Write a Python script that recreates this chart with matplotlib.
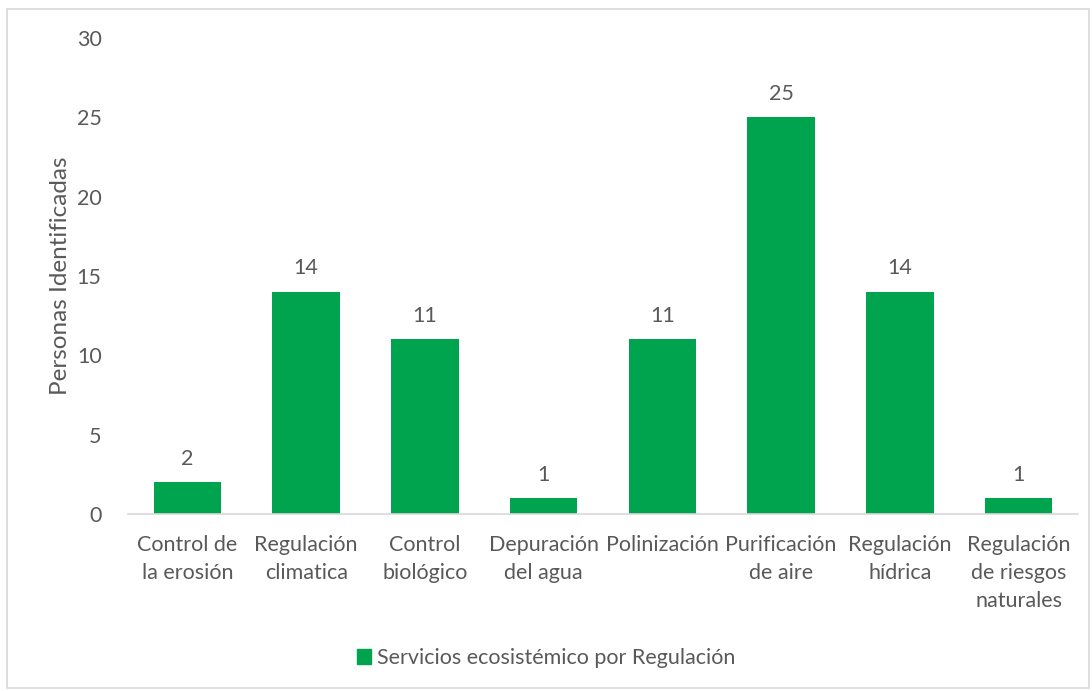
import matplotlib.pyplot as plt
from matplotlib.patches import Rectangle, Patch

# Servicios de regulación identificados
categorias = ['Control de\nla erosión', 'Regulación\nclimatica', 'Control\nbiológico',
              'Depuración\ndel agua', 'Polinización', 'Purificación\nde aire',
              'Regulación\nhídrica', 'Regulación\nde riesgos\nnaturales']
personas = [2, 14, 11, 1, 11, 25, 14, 1]
serie = 'Servicios ecosistémico por Regulación'

verde = '#00A34E'
gris = '#595959'

plt.rcParams['font.family'] = ['Lato', 'DejaVu Sans']

fig = plt.figure(figsize=(10.92, 6.91), dpi=100)
ax = fig.add_axes([128 / 1092, 1 - 514 / 691, 950 / 1092, 476 / 691])

x = range(len(categorias))
bars = ax.bar(x, personas, width=0.57, color=verde)
for b, v in zip(bars, personas):
    ax.text(b.get_x() + b.get_width() / 2, v + 0.85, str(v), ha='center', va='bottom',
            fontsize=15.5, color=gris)

ax.set_xlim(-0.5, len(categorias) - 0.5)
ax.set_ylim(0, 30)
ax.set_yticks(range(0, 31, 5))
ax.set_xticks(list(x))
ax.set_xticklabels(categorias, fontsize=15.5, color=gris, linespacing=1.5)
ax.tick_params(axis='y', length=0, labelsize=15.5, labelcolor=gris, pad=19)
ax.tick_params(axis='x', length=0, pad=15)
for s in ['top', 'right', 'left']:
    ax.spines[s].set_visible(False)
ax.spines['bottom'].set_color('#D9D9D9')
ax.spines['bottom'].set_linewidth(1.2)
ax.set_ylabel('Personas Identificadas', fontsize=17.5, color=gris, labelpad=4)

ax.legend(handles=[Patch(color=verde, label=serie)], loc='center',
          bbox_to_anchor=(0.5, 1 - 658 / 691), bbox_transform=fig.transFigure,
          frameon=False, fontsize=15.5, handlelength=0.65, handleheight=0.65,
          handletextpad=0.3, labelcolor=gris)

# marco del gráfico
fig.patches.append(Rectangle((7 / 1092, 3 / 691), 1082 / 1092, 679 / 691,
                             transform=fig.transFigure, fill=False,
                             edgecolor='#D9D9D9', linewidth=1.2))

fig.savefig('out.png', dpi=100)
